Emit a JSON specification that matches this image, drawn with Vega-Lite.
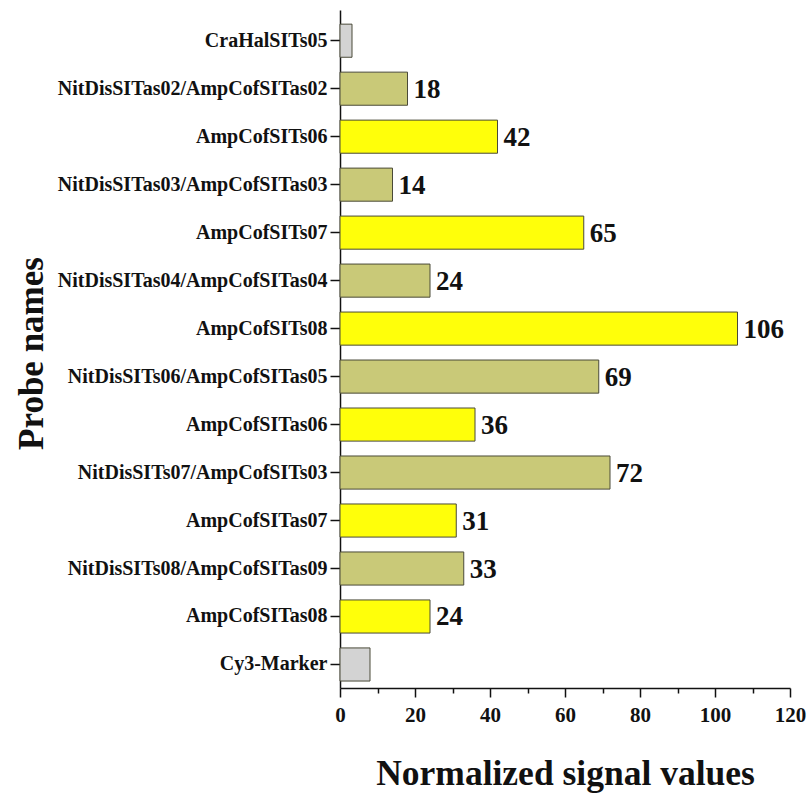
{
  "$schema": "https://vega.github.io/schema/vega-lite/v6.json",
  "width": 450,
  "height": 678,
  "autosize": {"type": "none"},
  "padding": {"left": 340, "top": 10, "right": 19, "bottom": 113},
  "background": "white",
  "config": {"view": {"stroke": null}, "font": "Liberation Serif"},
  "data": {
    "values": [
      {"probe": "CraHalSITs05", "value": 3.2, "group": "control"},
      {"probe": "NitDisSITas02/AmpCofSITas02", "value": 18, "group": "pair"},
      {"probe": "AmpCofSITs06", "value": 42, "group": "single"},
      {"probe": "NitDisSITas03/AmpCofSITas03", "value": 14, "group": "pair"},
      {"probe": "AmpCofSITs07", "value": 65, "group": "single"},
      {"probe": "NitDisSITas04/AmpCofSITas04", "value": 24, "group": "pair"},
      {"probe": "AmpCofSITs08", "value": 106, "group": "single"},
      {"probe": "NitDisSITs06/AmpCofSITas05", "value": 69, "group": "pair"},
      {"probe": "AmpCofSITas06", "value": 36, "group": "single"},
      {"probe": "NitDisSITs07/AmpCofSITs03", "value": 72, "group": "pair"},
      {"probe": "AmpCofSITas07", "value": 31, "group": "single"},
      {"probe": "NitDisSITs08/AmpCofSITas09", "value": 33, "group": "pair"},
      {"probe": "AmpCofSITas08", "value": 24, "group": "single"},
      {"probe": "Cy3-Marker", "value": 8, "group": "control"}
    ]
  },
  "layer": [
    {
      "mark": {"type": "bar", "stroke": "#4a4a38", "strokeWidth": 1},
      "encoding": {
        "y": {
          "field": "probe",
          "type": "nominal",
          "sort": null,
          "scale": {
            "domain": ["CraHalSITs05", "NitDisSITas02/AmpCofSITas02", "AmpCofSITs06", "NitDisSITas03/AmpCofSITas03", "AmpCofSITs07", "NitDisSITas04/AmpCofSITas04", "AmpCofSITs08", "NitDisSITs06/AmpCofSITas05", "AmpCofSITas06", "NitDisSITs07/AmpCofSITs03", "AmpCofSITas07", "NitDisSITs08/AmpCofSITas09", "AmpCofSITas08", "Cy3-Marker"],
            "paddingInner": 0.31,
            "paddingOuter": 0.22,
            "align": 0.67
          },
          "axis": {
            "title": "Probe names",
            "titleFont": "Liberation Serif",
            "titleFontSize": 35,
            "titleFontWeight": "bold",
            "titleColor": "#111",
            "titleX": -298,
            "titleY": 343,
            "titleAngle": -90,
            "titleAlign": "center",
            "titleBaseline": "alphabetic",
            "labelFont": "Liberation Serif",
            "labelFontSize": 20,
            "labelFontWeight": "bold",
            "labelColor": "#111",
            "labelLimit": 0,
            "labelPadding": 3,
            "tickSize": 10,
            "tickWidth": 1.5,
            "tickColor": "#111",
            "domainColor": "#111",
            "domainWidth": 1.5,
            "grid": false
          }
        },
        "x": {
          "field": "value",
          "type": "quantitative",
          "scale": {"domain": [0, 120], "nice": false},
          "axis": {
            "orient": "bottom",
            "values": [0, 20, 40, 60, 80, 100, 120],
            "title": "Normalized signal values",
            "titleFont": "Liberation Serif",
            "titleFontSize": 35.5,
            "titleFontWeight": "bold",
            "titleColor": "#111",
            "titlePadding": 31,
            "labelFont": "Liberation Serif",
            "labelFontSize": 21,
            "labelFontWeight": "bold",
            "labelColor": "#111",
            "labelFlush": false,
            "labelOverlap": false,
            "labelPadding": 7,
            "tickSize": 9,
            "tickWidth": 1.5,
            "tickColor": "#111",
            "domainColor": "#111",
            "domainWidth": 1.5,
            "grid": false
          }
        },
        "color": {
          "field": "group",
          "type": "nominal",
          "scale": {"domain": ["control", "pair", "single"], "range": ["#d3d3d3", "#c9c978", "#ffff0a"]},
          "legend": null
        }
      }
    },
    {
      "transform": [{"filter": "datum.group != 'control'"}],
      "mark": {"type": "text", "align": "left", "baseline": "middle", "dx": 6, "dy": 1, "fontSize": 27, "fontWeight": "bold", "font": "Liberation Serif", "color": "#111"},
      "encoding": {
        "y": {"field": "probe", "type": "nominal", "sort": null},
        "x": {
          "field": "value",
          "type": "quantitative",
          "axis": {
            "orient": "bottom",
            "values": [10, 30, 50, 70, 90, 110],
            "labels": false,
            "domain": false,
            "title": null,
            "tickSize": 5,
            "tickWidth": 1.5,
            "tickColor": "#111",
            "grid": false
          }
        },
        "text": {"field": "value", "type": "quantitative", "format": "d"}
      }
    }
  ],
  "resolve": {"axis": {"x": "independent"}}
}
